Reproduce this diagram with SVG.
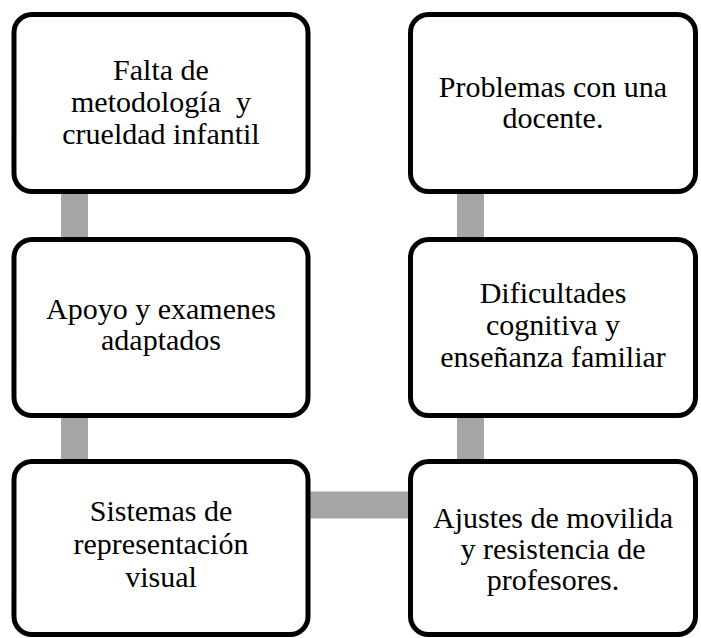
<svg xmlns="http://www.w3.org/2000/svg" width="701" height="638" viewBox="0 0 701 638">
<style>
.box{fill:#fff;stroke:#000;stroke-width:5}
.conn{stroke:#A6A6A6;stroke-width:27;fill:none}
.t{font-family:'Liberation Serif','Times New Roman',serif;font-size:30px;fill:#000;text-anchor:middle}
</style>
<rect width="701" height="638" fill="#fff"/>
<g id="connectors">
<line class="conn" x1="74.5" y1="190" x2="74.5" y2="463"/>
<line class="conn" x1="470.5" y1="190" x2="470.5" y2="463"/>
<line class="conn" x1="305" y1="505" x2="412" y2="505"/>
</g>
<g id="n1">
<rect class="box" x="14" y="14.5" width="294" height="177" rx="18"/>
<text class="t" x="161" y="80">Falta de</text>
<text class="t" x="161" y="112" xml:space="preserve">metodología  y</text>
<text class="t" x="161" y="144">crueldad infantil</text>
</g>
<g id="n2">
<rect class="box" x="410.5" y="14.5" width="285" height="177" rx="18"/>
<text class="t" x="553" y="97">Problemas con una</text>
<text class="t" x="553" y="128">docente.</text>
</g>
<g id="n3">
<rect class="box" x="14" y="239.5" width="294" height="176" rx="18"/>
<text class="t" x="161" y="319">Apoyo y examenes</text>
<text class="t" x="161" y="350">adaptados</text>
</g>
<g id="n4">
<rect class="box" x="410.5" y="239.5" width="285" height="176" rx="18"/>
<text class="t" x="553" y="303">Dificultades</text>
<text class="t" x="553" y="335">cognitiva y</text>
<text class="t" x="553" y="367">enseñanza familiar</text>
</g>
<g id="n5">
<rect class="box" x="14" y="461.5" width="294" height="173" rx="18"/>
<text class="t" x="161" y="521">Sistemas de</text>
<text class="t" x="161" y="554">representación</text>
<text class="t" x="161" y="587">visual</text>
</g>
<g id="n6">
<rect class="box" x="410.5" y="461.5" width="285" height="173" rx="18"/>
<text class="t" x="553" y="528">Ajustes de movilida</text>
<text class="t" x="553" y="559">y resistencia de</text>
<text class="t" x="553" y="590">profesores.</text>
</g>
</svg>
